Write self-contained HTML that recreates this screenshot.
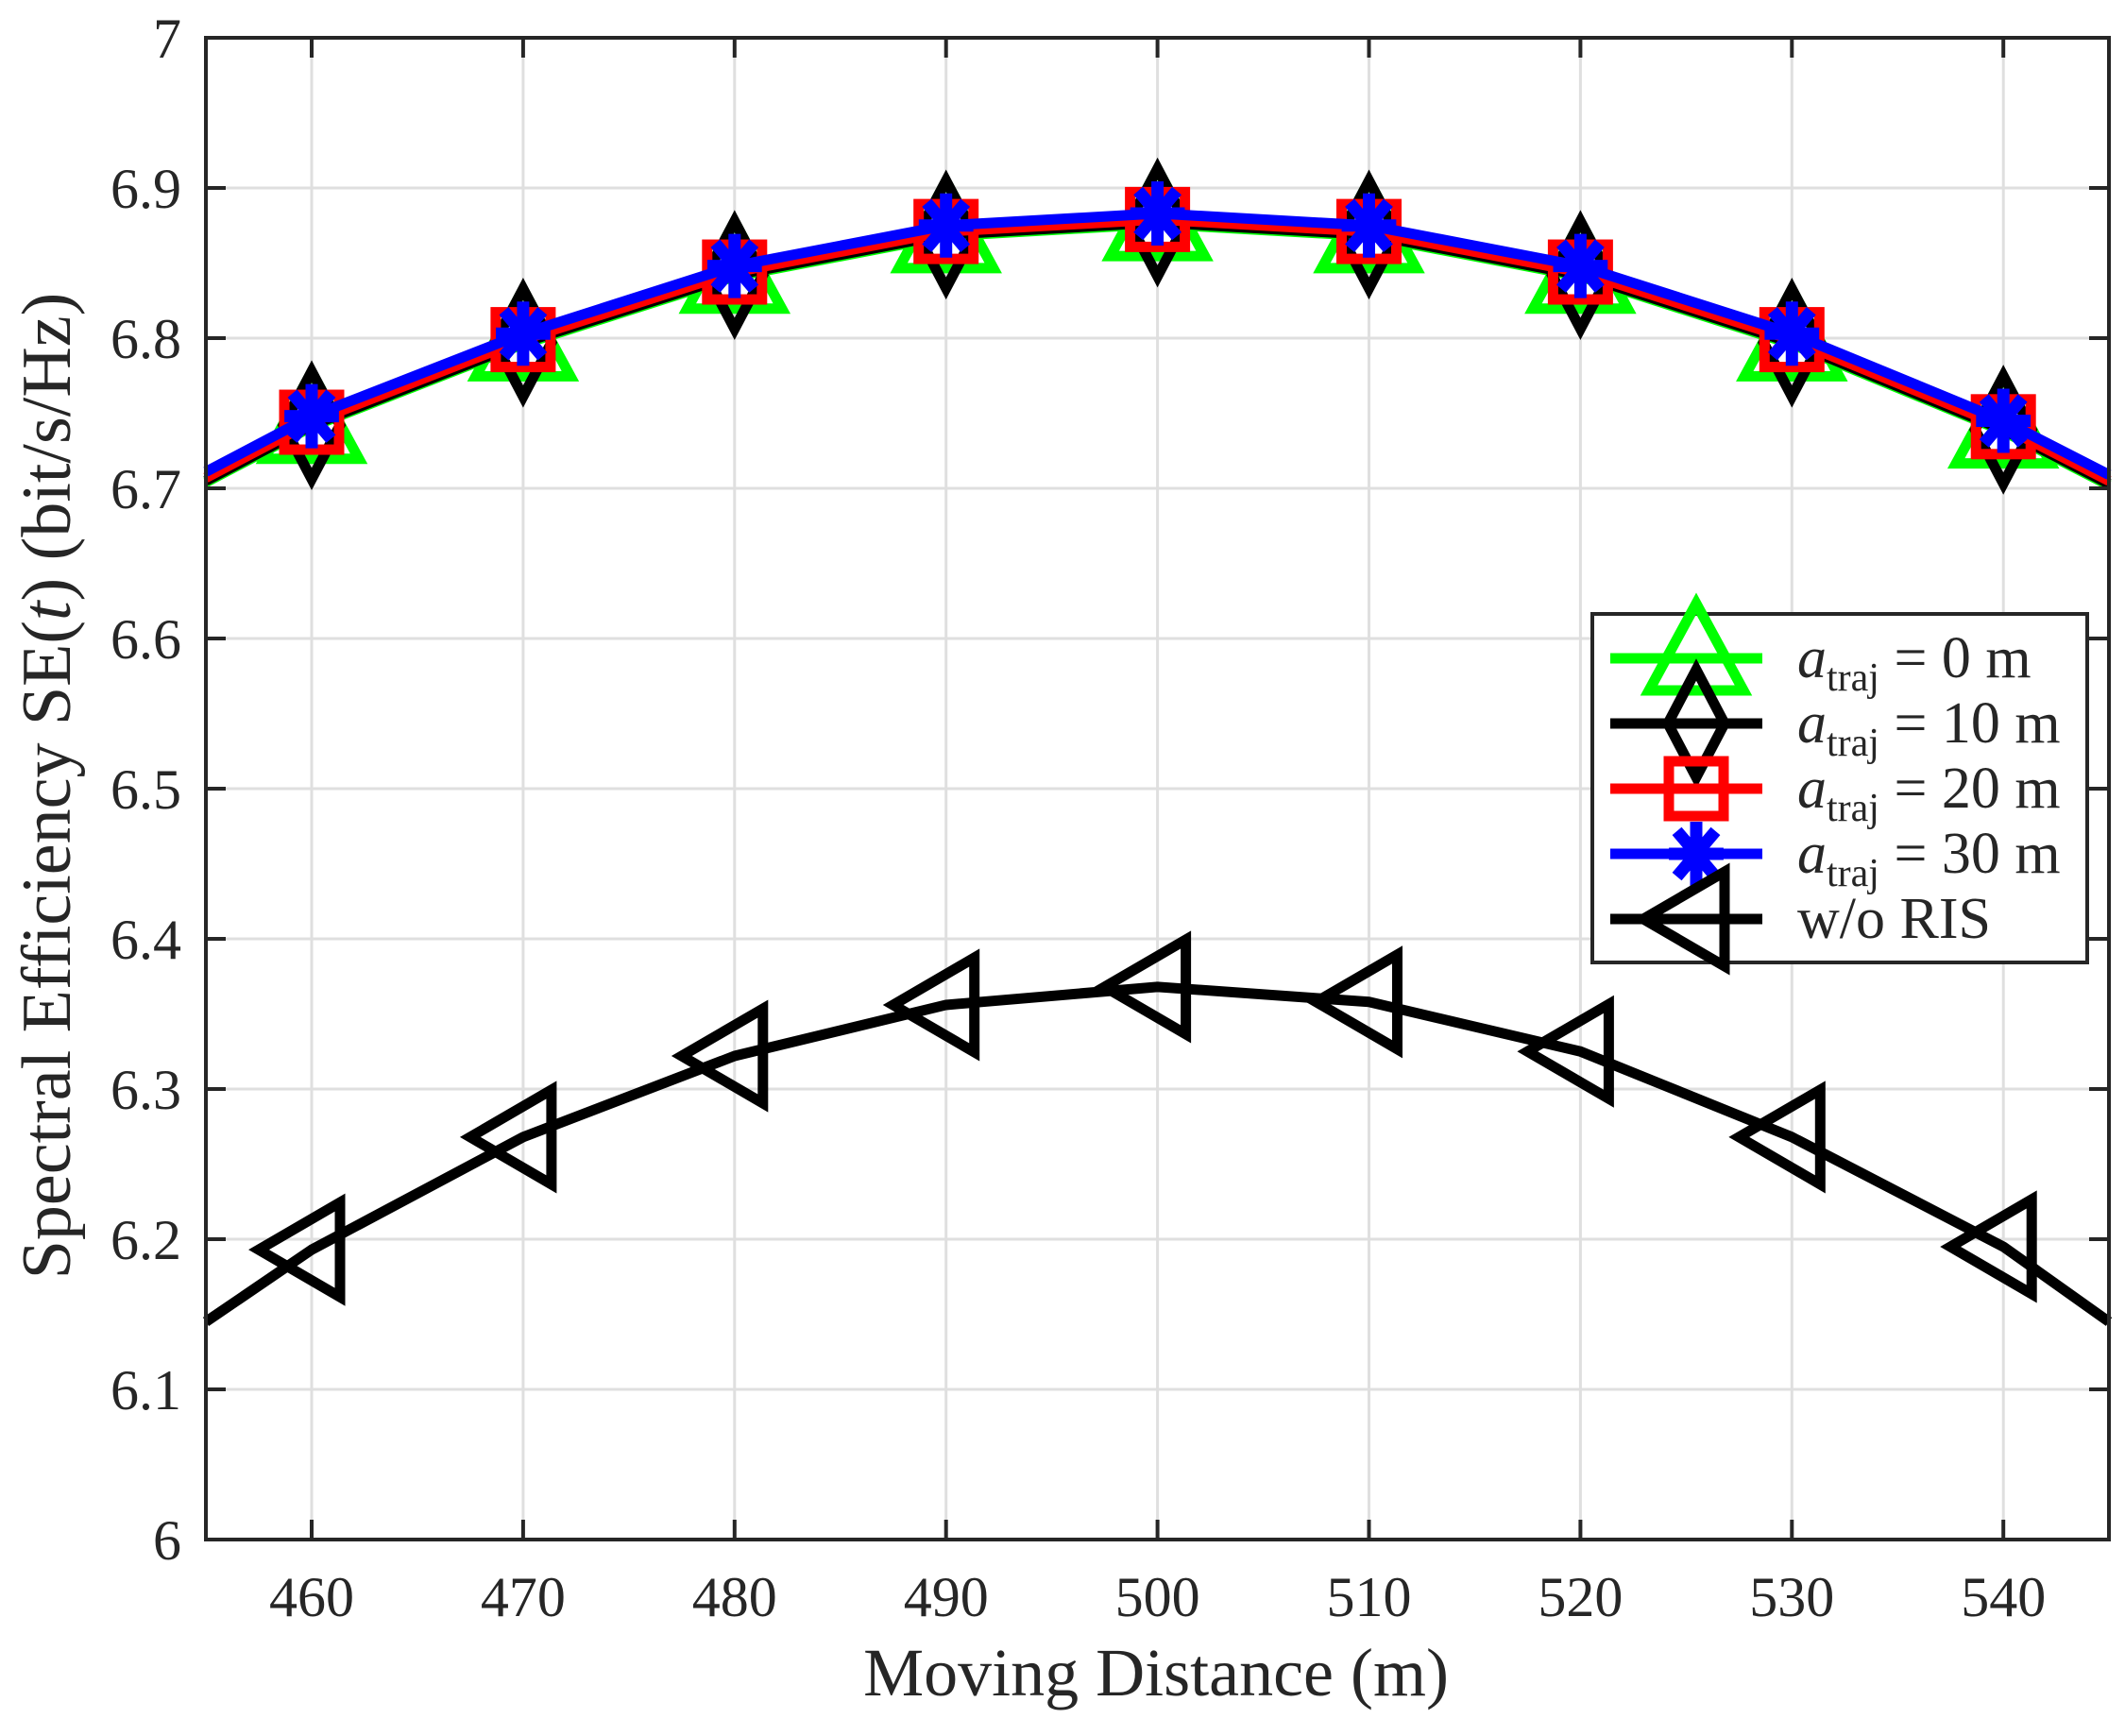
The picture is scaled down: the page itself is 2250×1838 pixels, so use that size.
<!DOCTYPE html>
<html><head><meta charset="utf-8"><style>
html,body{margin:0;padding:0;background:#fff;}
svg text{font-family:"Liberation Serif",serif;fill:#262626;}
</style></head><body>
<svg id="s" width="2250" height="1833" viewBox="0 0 2250 1833" xmlns="http://www.w3.org/2000/svg">
<rect width="2250" height="1833" fill="#fff"/>
<g id="grid" stroke="#dfdfdf" stroke-width="3"></g>
<g id="data"></g>
<g id="axes" stroke="#262626" stroke-width="4" fill="none"></g>
<g id="labels" font-size="60"></g>
<text x="1224" y="1795" font-size="72" text-anchor="middle">Moving Distance (m)</text>
<text transform="translate(74,832) rotate(-90)" font-size="74" text-anchor="middle">Spectral Efficiency SE(<tspan font-style="italic">t</tspan>) (bit/s/Hz)</text>
<g id="legend"></g>
</svg>
<script>
const NS="http://www.w3.org/2000/svg";
const L=218,R=2233,T=40,B=1630;
const X=v=>330+(v-460)*22.39, Y=v=>B-(v-6)*1590;
function el(p,tag,a,txt){const e=document.createElementNS(NS,tag);for(const k in a)e.setAttribute(k,a[k]);if(txt!==undefined)e.textContent=txt;p.appendChild(e);return e;}
const g=document.getElementById('grid'),ax=document.getElementById('axes'),lb=document.getElementById('labels'),d=document.getElementById('data'),lg=document.getElementById('legend');
for(let x=460;x<=540;x+=10){el(g,'line',{x1:X(x),x2:X(x),y1:T,y2:B});el(ax,'line',{x1:X(x),x2:X(x),y1:B,y2:B-21});el(ax,'line',{x1:X(x),x2:X(x),y1:T,y2:T+21});el(lb,'text',{x:X(x),y:1711,'text-anchor':'middle'},x);}
for(let i=0;i<=10;i++){const v=6+i/10,y=Y(v);if(i>0&&i<10)el(g,'line',{x1:L,x2:R,y1:y,y2:y});el(ax,'line',{x1:L,x2:L+21,y1:y,y2:y});el(ax,'line',{x1:R,x2:R-21,y1:y,y2:y});el(lb,'text',{x:192,y:y+21,'text-anchor':'end'},i==0?'6':i==10?'7':v.toFixed(1));}
el(ax,'rect',{x:L,y:T,width:R-L,height:B-T});
const xs=[455,460,470,480,490,500,510,520,530,540,545];
const base=[6.708,6.745,6.800,6.845,6.872,6.880,6.872,6.845,6.800,6.742,6.706];
const ris=[6.145,6.193,6.268,6.322,6.356,6.368,6.358,6.325,6.268,6.195,6.145];
function mk(p,type,cx,cy,col){
 const sw=11;
 if(type=='tri'){el(p,'polygon',{points:`${cx},${cy-58} ${cx+50},${cy+34} ${cx-50},${cy+34}`,fill:'none',stroke:col,'stroke-width':sw});}
 if(type=='dia'){el(p,'polygon',{points:`${cx},${cy-57} ${cx+30},${cy} ${cx},${cy+57} ${cx-30},${cy}`,fill:'none',stroke:col,'stroke-width':sw});}
 if(type=='sq'){el(p,'rect',{x:cx-29,y:cy-29,width:58,height:58,fill:'none',stroke:col,'stroke-width':sw});}
 if(type=='ast'){const r=34;for(const a of [0,45,90,135]){const t=a*Math.PI/180;el(p,'line',{x1:cx-r*Math.sin(t)*0.85,y1:cy-r*Math.cos(t),x2:cx+r*Math.sin(t)*0.85,y2:cy+r*Math.cos(t),stroke:col,'stroke-width':sw+2});}}
 if(type=='lt'){el(p,'polygon',{points:`${cx-56},${cy} ${cx+30},${cy-50} ${cx+30},${cy+50}`,fill:'none',stroke:col,'stroke-width':sw});}
}
const series=[
 {col:'#00ff00',type:'tri',off:-0.004},
 {col:'#000',type:'dia',off:-0.003},
 {col:'#ff0000',type:'sq',off:-0.001},
 {col:'#0000ff',type:'ast',off:0.003},
 {col:'#000',type:'lt',ris:true}];
for(const s of series){
 const vals=s.ris?ris:base.map(v=>v+s.off);
 const pts=xs.map((x,i)=>[x==455?L:x==545?R:X(x),Y(vals[i])]);
 el(d,'polyline',{points:pts.map(p=>p.join(',')).join(' '),fill:'none',stroke:s.col,'stroke-width':11,'stroke-linejoin':'round'});
 for(let i=1;i<xs.length-1;i++)mk(d,s.type,pts[i][0],pts[i][1],s.col);
}
el(lg,'rect',{x:1686,y:650,width:524,height:369,fill:'#fff',stroke:'#262626','stroke-width':4});
const rows=[697,766,835,904,973],labs=['0','10','20','30'];
series.forEach((s,i)=>{const y=rows[i];
 el(lg,'line',{x1:1705,x2:1866,y1:y,y2:y,stroke:s.col,'stroke-width':11});
 mk(lg,s.type,1796,y,s.col);
 if(i<4){const t=el(lg,'text',{x:1903,y:y+20,'font-size':62});
  el(t,'tspan',{'font-style':'italic'},'a');
  el(t,'tspan',{'font-size':42,dy:14},'traj');
  el(t,'tspan',{dy:-14},' = '+labs[i]+' m');}
 else el(lg,'text',{x:1903,y:y+20,'font-size':62},'w/o RIS');
});
</script>
</body></html>
